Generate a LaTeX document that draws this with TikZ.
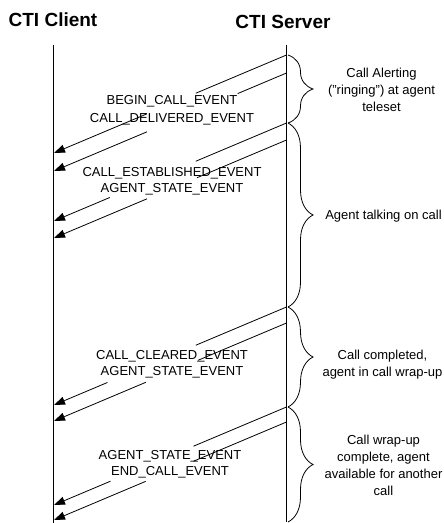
\documentclass[tikz,border=0pt]{standalone}
\usepackage{fontspec}
\setmainfont{Liberation Sans}
\usetikzlibrary{arrows.meta,calc,decorations.pathreplacing}
\tikzset{
  lifeline/.style={line width=0.9pt},
  msg/.style={line width=0.8pt},
  msgarr/.style={line width=0.8pt,-{Triangle[length=11pt,width=8pt]}},
  evlabel/.style={inner sep=0pt,align=center,font=\fontsize{13}{16}\selectfont},
  evlabelwide/.style={inner sep=0pt,align=center,font=\fontsize{13}{17.5}\selectfont},
  sidelabel/.style={inner sep=0pt,align=center,font=\fontsize{13}{17}\selectfont},
  title/.style={inner sep=0pt,font=\bfseries\fontsize{19}{22}\selectfont},
  phase/.style={line width=0.8pt,decorate,decoration={brace,amplitude=25pt}}
}
\newcommand\evmsg[4]{%
  \draw[msg] (#1) -- ($(#1)!#3!(#2)$);
  \draw[msgarr] ($(#1)!#4!(#2)$) -- (#2);}
\begin{document}
\begin{tikzpicture}[x=1pt,y=-1pt]
\useasboundingbox (0,0) rectangle (444,523);
% titles
\node[title] (tclient) at (53,20) {CTI Client};
\node[title] (tserver) at (283,21.7) {CTI Server};
% lifelines
\coordinate (ctop) at (53.5,45);
\coordinate (cbot) at (53.5,523);
\coordinate (stop) at (286.5,45);
\coordinate (sbot) at (286.5,522);
\draw[lifeline] (ctop) -- (cbot);
\draw[lifeline] (stop) -- (sbot);
% message end points
\foreach \n/\s in {a1/55,a2/73,b1/123,b2/140,c1/307,c2/323,d1/407,d2/422}{
  \coordinate (s\n) at (286.5,\s);
  \coordinate (e\n) at (54,\s+98);
}
% group 1
\evmsg{sa1}{ea1}{0.39}{0.60}
\evmsg{sa2}{ea2}{0.21}{0.60}
\node[evlabelwide] (la) at (172,110) {BEGIN\_CALL\_EVENT\\CALL\_DELIVERED\_EVENT};
% group 2
\evmsg{sb1}{eb1}{0.39}{0.76}
\evmsg{sb2}{eb2}{0.385}{0.60}
\node[evlabel] (lb) at (172,181) {CALL\_ESTABLISHED\_EVENT\\AGENT\_STATE\_EVENT};
% group 3
\evmsg{sc1}{ec1}{0.39}{0.77}
\evmsg{sc2}{ec2}{0.38}{0.605}
\node[evlabel] (lc) at (172,364.5) {CALL\_CLEARED\_EVENT\\AGENT\_STATE\_EVENT};
% group 4
\evmsg{sd1}{ed1}{0.40}{0.757}
\evmsg{sd2}{ed2}{0.40}{0.606}
\node[evlabel] (ld) at (170,464.5) {AGENT\_STATE\_EVENT\\END\_CALL\_EVENT};
% braces
\coordinate (p0) at (288,55);
\coordinate (p1) at (288,123);
\coordinate (p2) at (288,307);
\coordinate (p3) at (288,407);
\coordinate (p4) at (288,522);
\draw[phase] (p0) -- (p1);
\draw[phase] (p1) -- (p2);
\draw[phase] (p2) -- (p3);
\draw[phase] (p3) -- (p4);
% phase labels
\node[sidelabel] (ra) at (381.5,90) {Call Alerting\\("ringing") at agent\\teleset};
\node[sidelabel] (rb) at (383.5,216) {Agent talking on call};
\node[sidelabel] (rc) at (382.5,365) {Call completed,\\agent in call wrap-up};
\node[sidelabel] (rd) at (383.5,465) {Call wrap-up\\complete, agent\\available for another\\call};
\end{tikzpicture}
\end{document}
